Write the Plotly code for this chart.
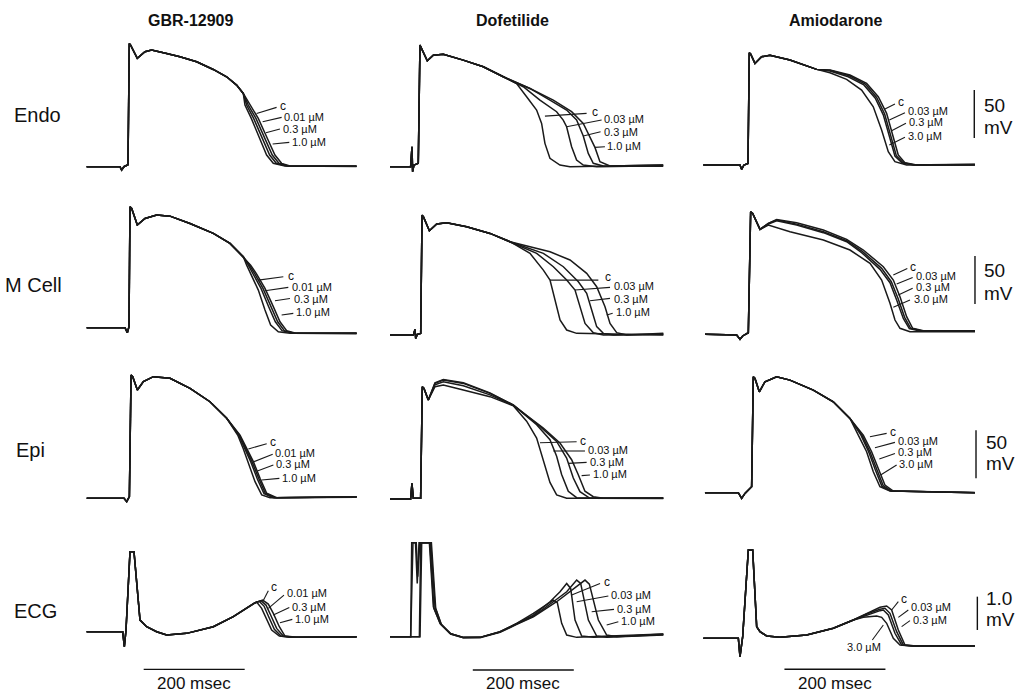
import plotly.graph_objects as go

W, H = 1023, 696

# ---------------------------------------------------------------- data
row_names = ["Endo", "M Cell", "Epi", "ECG"]
drug_names = ["GBR-12909", "Dofetilide", "Amiodarone"]
gbr_conc = ["c", "0.01 µM", "0.3 µM", "1.0 µM"]
dof_conc = ["c", "0.03 µM", "0.3 µM", "1.0 µM"]
amio_conc = ["c", "0.03 µM", "0.3 µM", "3.0 µM"]

# action potentials: (time ms from upstroke, membrane potential mV)
endo_gbr_pre = [(-84.5, -85), (-18.5, -85), (-15.2, -88.5), (-10.6, -85), (-2.6, -83), (0, 43.4), (2.6, 41.7),
                (15.8, 27.8), (31, 34.7), (44.2, 36.5), (73.9, 33), (100.3, 29.5), (133.3, 24.3), (166.3, 16.3),
                (192.7, 8.7), (212.5, 0), (225.7, -8.7)]
endo_gbr_tails = [
    [(239, -20.8), (255.4, -34.7), (271.9, -53.8), (288.4, -72.9), (301.6, -81.5), (318.1, -84.3), (450, -84.6)],
    [(235.6, -20.8), (250.8, -34.7), (266.6, -53.8), (283.1, -72.9), (296.3, -81.5), (314.8, -84.3), (450, -84.3)],
    [(232.3, -20.8), (246.2, -34.7), (262, -53.8), (277.9, -72.9), (291.1, -81.5), (311.5, -84.3), (450, -84.8)],
    [(229, -20.8), (241.6, -34.7), (256.7, -53.8), (271.9, -72.9), (285.1, -81.5), (308.2, -84.3), (450, -84.5)],
]

endo_dof_pre = [(-58, -85), (-17.2, -85), (-14.5, -64.2), (-13.2, -90.2), (-10.6, -83.3), (-2, -81.5), (1.3, 41.7),
                (4.6, 38.2), (15.8, 25.3), (27.7, 31.2), (47.5, 32.2), (87, 26), (126.7, 19.1), (166.3, 8.7)]
endo_dof_tails = [
    [(192.7, 1.7), (212.5, -12.1), (232.3, -26), (242.2, -39.9), (248.8, -60.7), (258.7, -76.3), (278.5, -83.3),
     (298.3, -85), (483, -83.3)],
    [(205.9, -1.7), (238.9, -15.6), (271.9, -27.7), (285, -36.4), (291.7, -43.4), (301.6, -64.2), (311.5, -78),
     (324.7, -83.3), (351.1, -85), (483, -84)],
    [(219.1, -3.5), (258.7, -15.6), (291.7, -26), (311.5, -36.4), (324.7, -53), (334.6, -71.1), (344.5, -81.5),
     (364.3, -84.3), (483, -84.5)],
    [(219.1, -3.5), (265.3, -15.6), (301.6, -27.7), (324.7, -39.9), (337.9, -53.8), (347.8, -64.9), (357.7, -79.8),
     (377.5, -84.3), (483, -83.3)],
]

endo_amio_pre = [(-91, -85), (-18.5, -85), (-15.2, -89.5), (-10.6, -85), (-2.6, -83.3), (0, 32), (2.6, 30.6),
                 (11.2, 20.8), (24.4, 27.8), (40.9, 29.2), (80.5, 24.3), (133.3, 14.6)]
endo_amio_tails = [
    [(159.7, 13.9), (199.3, 8.7), (232.3, 0), (255.4, -13.9), (271.9, -31.2), (285.1, -55.5), (295, -74.6),
     (308.2, -82.6), (331.3, -85), (446.8, -85)],
    [(159.7, 13.6), (198, 8), (229.7, -0.7), (252.1, -14.6), (268, -31.9), (281.2, -56.2), (291.1, -75.3),
     (304.9, -82.6), (328, -85), (446.8, -85)],
    [(159.7, 12.9), (195.9, 6.9), (226.9, -1.6), (249.5, -15.5), (265.3, -32.8), (278.5, -57.3), (288.4, -75.6),
     (302.3, -82.6), (324.7, -85), (446.8, -84.6)],
    [(159.7, 11.1), (192.7, 4.2), (222.4, -6.9), (245.5, -24.3), (262, -48.6), (275.2, -71.1), (288.4, -81.5),
     (311.5, -85), (446.8, -84.3)],
]

mcell_gbr_pre = [(-85.8, -85), (-9.9, -85), (-5.3, -90.2), (-2, -84), (0, 41), (3.3, 39.2), (14.5, 21.9),
                 (29.7, 28.8), (52.8, 32.3), (79.2, 31.2), (118.8, 23.6), (165, 13.2), (198, 2.8), (224.4, -11.1)]
mcell_gbr_tails = [
    [(238.9, -19.8), (250.8, -29.1), (267.3, -44.1), (283.8, -63.1), (297, -78.8), (310.2, -88.1), (330, -90.9),
     (448.8, -90.9)],
    [(236.6, -19.8), (247.5, -29.1), (263.3, -44.1), (279.2, -63.1), (292.4, -78.8), (305.6, -88.1), (326.7, -90.9),
     (448.8, -90.5)],
    [(234.3, -19.8), (244.2, -29.1), (259.4, -44.1), (274.6, -63.1), (287.8, -78.8), (301, -88.1), (323.4, -90.9),
     (448.8, -91.2)],
    [(231, -19.8), (238.9, -28.4), (254.1, -45.8), (267.3, -66.6), (278.5, -82.2), (293.7, -89.2), (316.8, -90.9),
     (448.8, -90.8)],
]

mcell_dof_pre = [(-62.7, -85), (-16.5, -85), (-13.2, -79.1), (-11.9, -88.5), (-8.6, -84.3), (-2, -83.3), (0.7, 39.9),
                 (3.3, 38.2), (15.2, 23.6), (29.7, 30.6), (49.5, 32), (89.1, 27.8), (135.3, 20.8), (174.9, 12.2)]
mcell_dof_tails = [
    [(214.5, 0), (240.9, -17.4), (254.1, -27.8), (264, -48.6), (273.9, -69.4), (287.1, -79.8), (306.9, -83.3),
     (478.5, -85)],
    [(227.7, 0), (260.7, -13.9), (287.1, -27.8), (303.6, -38.2), (313.5, -55.5), (323.4, -72.9), (339.9, -82.6),
     (359.7, -85), (478.5, -84.5)],
    [(240.9, 0), (280.5, -13.9), (310.2, -29.5), (326.7, -41.6), (336.6, -59), (346.5, -76.3), (359.7, -83.3),
     (379.5, -85), (478.5, -84)],
    [(254.1, 1.7), (293.7, -6.9), (326.7, -20.8), (346.5, -34.7), (363, -55.5), (372.9, -72.9), (386.1, -82.6),
     (405.9, -85), (478.5, -83.3)],
]

mcell_amio_pre = [(-89.1, -84.3), (-26.4, -85), (-19.8, -89.5), (-14.5, -86), (-3.3, -82.6), (1.3, 43.4), (5.3, 41.6),
                  (19.8, 25)]
mcell_amio_tails = [
    [(36.3, 31.2), (52.8, 35.4), (92.4, 31.9), (145.2, 24.3), (191.4, 14.6), (224.4, 3.5), (264, -13.9),
     (283.8, -27.8), (297, -45.1), (310.2, -65.9), (322.1, -78), (343.2, -80.5), (445.5, -80.5)],
    [(36.3, 31.2), (52.8, 34.7), (92.4, 30.5), (145.2, 22.6), (191.4, 13.2), (223.1, 1.8), (260.7, -15.6),
     (279.8, -29.5), (293, -46.8), (306.2, -66.6), (318.1, -78), (339.9, -80.5), (445.5, -80.5)],
    [(36.3, 30.5), (52.8, 34), (92.4, 29.5), (145.2, 21.6), (191.4, 12.2), (221.1, 0.8), (257.4, -16.6),
     (277.2, -30.5), (290.4, -48.5), (303.6, -67.7), (315.5, -78.3), (336.6, -80.8), (445.5, -80.9)],
    [(36.3, 29.5), (79.2, 22.6), (145.2, 13.9), (198, 3.5), (237.6, -10.4), (260.7, -27.8), (277.2, -52),
     (287.1, -69.4), (297, -78), (316.8, -81.5), (445.5, -81.5)],
]

epi_gbr_pre = [(-87.1, -85), (-13.2, -85), (-7.9, -88.5), (-2.6, -83.3), (0.7, 43.4), (4, 41.7), (13.2, 27.8),
               (25.1, 36.5), (44.9, 41.7), (77.9, 40), (117.5, 29.5), (157, 15.6), (190.1, -1.7)]
epi_gbr_tails = [
    [(216.5, -19.1), (229.7, -33), (242.9, -46.8), (256.1, -64.2), (269.3, -79.8), (289.1, -84.3), (447.5, -83.3)],
    [(215.2, -19.1), (227.7, -33), (240.2, -46.8), (253.4, -64.2), (266.6, -79.8), (285.8, -84.3), (447.5, -83.6)],
    [(213.8, -19.1), (225.7, -33), (237.6, -46.8), (250.8, -64.9), (264, -80.1), (282.5, -84.3), (447.5, -83.8)],
    [(212.5, -19.8), (223.1, -33.6), (233.6, -48.6), (246.2, -67.7), (259.4, -81.5), (275.9, -84.3), (447.5, -83.5)],
]

epi_dof_pre = [(-64, -85), (-23.1, -85), (-20.5, -68.7), (-17.8, -84.3), (-3.3, -84.3), (0, 32), (3.3, 30.2),
               (11.9, 18.1)]
epi_dof_tails = [
    [(25.1, 32), (41.6, 33.7), (81.2, 28.5), (134, 21.6), (180.2, 12.1), (206.6, -4), (226.4, -21.5),
     (239.6, -45.8), (252.8, -67.7), (266, -80.8), (285.8, -84.3), (477.2, -84.3)],
    [(25.1, 35.4), (41.6, 38.9), (81.2, 35.4), (134, 25), (180.2, 12.8), (226.4, -7.6), (252.8, -23.2),
     (266, -40.5), (275.9, -59.5), (289.1, -76.9), (305.6, -83.6), (477.2, -84)],
    [(25.1, 36), (41.6, 39.5), (81.2, 36), (134, 25.5), (180.2, 13), (233, -9.3), (266, -25), (285.8, -42.3),
     (299, -63.2), (312.2, -77.4), (332, -84.3), (477.2, -84.6)],
    [(25.1, 34), (41.6, 37), (81.2, 33), (134, 23.5), (180.2, 12.5), (239.6, -11), (272.6, -26.7), (295.7, -44.1),
     (308.9, -59.7), (322.1, -76.9), (338.6, -82.6), (358.4, -84.3), (477.2, -84)],
]

epi_amio_pre = [(-95.7, -85), (-29.7, -85), (-23.1, -90.9), (-16.5, -85.7), (-3.3, -78.8), (0, 35.8), (3.3, 34),
                (11.9, 20.1), (23.1, 30.6), (46.2, 35.8), (72.6, 32.3), (118.8, 21.9), (158.4, 9.7), (191.4, -7.6)]
epi_amio_tails = [
    [(217.8, -25), (234.3, -42.3), (247.5, -59.7), (260.7, -77), (277.2, -83.3), (438.9, -85)],
    [(215.2, -25), (231, -42.3), (244.2, -60.4), (257.4, -77.7), (273.9, -83.3), (438.9, -85)],
    [(213.2, -25), (228.4, -42.3), (241.6, -61.1), (254.8, -78.4), (271.9, -83.3), (438.9, -84.7)],
    [(207.9, -25), (224.4, -42.3), (237.6, -63.2), (250.8, -78.8), (270.6, -83.3), (438.9, -85)],
]

# ECG: (time ms from QRS onset, mV)
ecg_gbr_pre = [(-76, 0), (-4.6, 0), (-1.3, -0.45), (2, 0.05), (9.9, 2.4), (17.8, 2.4), (29.7, 0.35), (42.9, 0.15),
               (62.7, 0), (82.5, -0.1), (122.1, -0.05), (174.9, 0.15), (214.5, 0.45), (240.9, 0.7)]
ecg_gbr_tails = [
    [(257.4, 0.87), (272.6, 0.95), (283.8, 0.83), (293.7, 0.55), (305.6, 0.15), (316.8, -0.13), (339.9, -0.17),
     (458.7, -0.15)],
    [(257.4, 0.87), (269.3, 0.93), (279.2, 0.8), (288.4, 0.5), (300.3, 0.1), (313.5, -0.13), (333.3, -0.17),
     (458.7, -0.16)],
    [(255.4, 0.85), (266, 0.91), (275.2, 0.77), (284.5, 0.45), (295.7, 0.07), (308.9, -0.13), (330, -0.17),
     (458.7, -0.15)],
    [(252.8, 0.83), (260.7, 0.89), (270.6, 0.7), (280.5, 0.37), (290.4, 0.05), (305.6, -0.13), (326.7, -0.17),
     (458.7, -0.16)],
]

ecg_dof_pre = [(-42.9, 0), (-2, 0)]
ecg_dof_tails = [
    [(0, 2.82), (7.5, 2.82), (11, 1.6), (14.5, 2.82), (35, 2.82), (42.9, 0.9), (56.1, 0.4), (75.9, 0.1),
     (102.3, -0.02), (135.3, -0.02), (174.9, 0.15), (207.9, 0.4), (240.9, 0.7), (267.3, 0.95), (280.5, 1.1),
     (288.4, 1.02), (297, 0.4), (306.9, 0.05), (326.7, -0.02), (498.3, 0.08)],
    [(2.5, 2.82), (9, 2.82), (12, 1.8), (16, 2.82), (36, 2.82), (44, 0.85), (57, 0.38), (76, 0.1), (102.3, -0.02),
     (135.3, -0.02), (174.9, 0.15), (207.9, 0.4), (240.9, 0.65), (273.9, 1.05), (293.7, 1.35), (306.9, 1.6),
     (314.8, 1.45), (323.4, 0.5), (336.6, 0.02), (359.7, -0.02), (498.3, 0.06)],
    [(15.2, 0), (17.8, 2.82), (37.6, 2.82), (46.2, 0.9), (58, 0.38), (77, 0.08), (102.3, -0.03), (135.3, -0.02),
     (174.9, 0.14), (207.9, 0.38), (240.9, 0.62), (280.5, 1.05), (306.9, 1.35), (326.7, 1.7), (334.6, 1.6),
     (349.8, 0.5), (366.3, 0.02), (386.1, -0.02), (498.3, 0.05)],
    [(16.5, 0), (19.8, 2.82), (39, 2.82), (47.5, 0.85), (59, 0.36), (78, 0.08), (102.3, -0.03), (135.3, -0.03),
     (174.9, 0.13), (207.9, 0.37), (240.9, 0.6), (287.1, 1.05), (316.8, 1.4), (343.2, 1.7), (351.8, 1.58),
     (369.6, 0.5), (386.1, 0.05), (405.9, 0), (498.3, 0.08)],
]

ecg_amio_pre = [(-72.6, 0), (-3.3, 0), (0, -0.55), (5.3, 0.05), (16.5, 2.65), (25.1, 2.65), (33, 0.35), (39.6, 0.2),
                (52.8, 0.07), (79.2, 0.03), (132, 0.1), (184.8, 0.3), (224.4, 0.55)]
ecg_amio_tails = [
    [(250.8, 0.75), (277.2, 0.93), (290.4, 0.97), (300.3, 0.85), (313.5, 0.25), (326.7, -0.2), (349.8, -0.23),
     (465.3, -0.23)],
    [(250.8, 0.73), (277.2, 0.87), (287.1, 0.9), (297, 0.75), (310.2, 0.2), (323.4, -0.2), (346.5, -0.23),
     (465.3, -0.22)],
    [(250.8, 0.7), (277.2, 0.83), (283.8, 0.85), (293.7, 0.7), (306.9, 0.15), (320.1, -0.2), (343.2, -0.23),
     (465.3, -0.23)],
    [(244.2, 0.63), (270.6, 0.67), (280.5, 0.63), (290.4, 0.45), (303.6, 0), (316.8, -0.2), (339.9, -0.23),
     (465.3, -0.22)],
]

scale_ap_mV = 50
scale_ecg_mV = 1.0
scale_time_ms = 200

panel_data = [
    [(endo_gbr_pre, endo_gbr_tails), (endo_dof_pre, endo_dof_tails), (endo_amio_pre, endo_amio_tails)],
    [(mcell_gbr_pre, mcell_gbr_tails), (mcell_dof_pre, mcell_dof_tails), (mcell_amio_pre, mcell_amio_tails)],
    [(epi_gbr_pre, epi_gbr_tails), (epi_dof_pre, epi_dof_tails), (epi_amio_pre, epi_amio_tails)],
    [(ecg_gbr_pre, ecg_gbr_tails), (ecg_dof_pre, ecg_dof_tails), (ecg_amio_pre, ecg_amio_tails)],
]
col_conc = [gbr_conc, dof_conc, amio_conc]

# ---------------------------------------------------------------- layout geometry
KX = 0.505  # px per ms
# (origin x px, origin y px, value at origin, px per unit)
geom = [
    [(129.3, 166.7, -85, 0.96), (419.3, 166.7, -85, 0.96), (749.3, 165.0, -85, 0.96)],
    [(130.0, 327.7, -85, 0.96), (421.7, 335.0, -85, 0.96), (750.0, 335.0, -85, 0.96)],
    [(130.7, 498.3, -85, 0.96), (422.3, 499.0, -85, 0.96), (753.3, 492.7, -85, 0.96)],
    [(125.0, 631.7, 0, 33.3), (411.7, 636.7, 0, 33.3), (740.0, 638.3, 0, 33.3)],
]
col_px = [(78, 376), (378, 686), (688, 1023)]
row_px = [(25, 190), (192, 356), (358, 522), (524, 696)]

# label leader lines: (t_start, v_start, t_end, v_end, t_text, v_text)
label_pos = {
    (0, 0): [(252.1, -29.5, 291.7, -23.2, 295, -21.8), (264, -38.2, 301.6, -33.6, 303, -33.6),
             (270.6, -49.6, 298.3, -45.8, 300.3, -45.8), (283.8, -61.4, 316.8, -59.7, 318, -59.7)],
    (0, 1): [(248.8, -32.3, 331.3, -29.5, 337.9, -28.4), (291.7, -43.4, 361, -36.4, 362.3, -35.7),
             (324.7, -53.1, 359, -48.6, 362.3, -48.6), (347.8, -64.9, 367.6, -64.2, 368.6, -63.5)],
    (0, 2): [(268.6, -26.7, 288.4, -21.5, 289.7, -19.1), (277.2, -38.2, 308.2, -30.6, 310.2, -28.4),
             (281.8, -49.3, 310.2, -41.6, 311.5, -39.9), (277.2, -64.2, 308.2, -56.2, 310.2, -54.8)],
    (1, 0): [(254.1, -35.4, 303.6, -31.9, 308.9, -31.2), (267.3, -46.5, 313.5, -43, 316.8, -43),
             (287.1, -56.9, 316.8, -54.5, 320.1, -55.2), (300.3, -71.8, 323.4, -70.1, 325.4, -69)],
    (1, 1): [(254.1, -27.8, 349.8, -27.8, 359.7, -25), (303.6, -38.2, 372.9, -35.4, 376.2, -34),
             (333.3, -49.3, 372.9, -46.8, 376.2, -47.5), (366.3, -64.2, 378.2, -62.4, 380.8, -61.4)],
    (1, 2): [(283.8, -22.5, 311.5, -15.6, 313.5, -13.9), (290.4, -31.9, 322.1, -25, 324.7, -23.6),
             (293.7, -43.4, 322.1, -36.4, 324.7, -35.4), (283.8, -56.2, 316.8, -48.6, 320.1, -47.5)],
    (2, 0): [(233, -33.6, 269.3, -28.1, 272.6, -26.7), (244.2, -46.8, 281.2, -39.2, 282.5, -38.2),
             (250.8, -56.5, 282.5, -50.3, 284.5, -49.6), (259.4, -65.9, 294.4, -64.2, 295.7, -63.5)],
    (2, 1): [(233, -26.4, 305.6, -25.3, 308.9, -24.6), (259.4, -35, 322.1, -35, 324, -34),
             (289.1, -47.9, 325.4, -46.8, 327.4, -46.1), (315.5, -60.7, 332, -60, 334, -59.3)],
    (2, 2): [(231, -26.7, 264, -23.2, 266, -21.5), (240.9, -38.2, 280.5, -32.6, 282.5, -31.2),
             (249.5, -50, 280.5, -44.1, 282.5, -43), (252.1, -66.6, 283.8, -56.2, 285.1, -55.5)],
    (3, 0): [(272.6, 0.9, 283.8, 1.23, 285.1, 1.33), (283.8, 0.7, 314.8, 1.1, 316.1, 1.17),
             (293.7, 0.5, 325.4, 0.73, 326.7, 0.73), (306.9, 0.27, 331.3, 0.37, 333.3, 0.37)],
    (3, 1): [(316.8, 1.25, 372.9, 1.6, 376.2, 1.63), (326.7, 1.05, 389.4, 1.22, 391.4, 1.25),
             (356.4, 0.75, 400.6, 0.82, 402.6, 0.82), (386.1, 0.35, 409.2, 0.45, 411.2, 0.48)],
    (3, 2): [(300.3, 0.85, 313.5, 1.1, 315.5, 1.17), (313.5, 0.63, 333.3, 0.85, 335.3, 0.93),
             (320.1, 0.35, 336.6, 0.53, 337.9, 0.55), (283.8, 0.4, 262, -0.05, 207.9, -0.25)],
}
# amplitude scale bars: (t, v_top, v_bottom, t_text, v_text1, v_text2)
vbar_pos = {0: (445.5, -7, -57, 460, -22.5, -45.8), 1: (445.5, -2.7, -52.7, 460, -17.3, -41.3),
            2: (441, -20, -70, 456, -33, -55), 3: (470, 1.25, 0.25, 484, 1.2, 0.57)}
# time bars: (t_start, v, t_text, v_text)
tbar_pos = {0: (37, -1.13, 137, -1.57), 1: (121, -1.0, 221, -1.42), 2: (88, -0.93, 188, -1.37)}

FONT = "Liberation Sans, Arial, Helvetica, sans-serif"
LINE = "#1a1a1a"

fig = go.Figure()
axes = {}
shapes = []
annos = []


def ax_names(idx):
    s = "" if idx == 1 else str(idx)
    return "x" + s, "y" + s, "xaxis" + s, "yaxis" + s


for r in range(4):
    for c in range(3):
        idx = r * 3 + c + 1
        xr, yr, xkey, ykey = ax_names(idx)
        xo, yo, vo, ky = geom[r][c]
        xl, xrt = col_px[c]
        yt, yb = row_px[r]
        axes[xkey] = dict(domain=[xl / W, xrt / W], range=[(xl - xo) / KX, (xrt - xo) / KX],
                          visible=False, anchor=yr, fixedrange=True)
        axes[ykey] = dict(domain=[1 - yb / H, 1 - yt / H], range=[vo + (yo - yb) / ky, vo + (yo - yt) / ky],
                          visible=False, anchor=xr, fixedrange=True)
        pre, tails = panel_data[r][c]
        for k, tail in enumerate(tails):
            pts = pre + tail
            fig.add_trace(go.Scatter(x=[p[0] for p in pts], y=[p[1] for p in pts], mode="lines",
                                     line=dict(color=LINE, width=1.5), xaxis=xr, yaxis=yr,
                                     name=f"{row_names[r]} {drug_names[c]} {col_conc[c][k]}",
                                     hoverinfo="skip", showlegend=False))
        for k, (ts, vs, te, ve, tt, vt) in enumerate(label_pos[(r, c)]):
            shapes.append(dict(type="line", xref=xr, yref=yr, x0=ts, y0=vs, x1=te, y1=ve,
                               line=dict(color=LINE, width=1.1)))
            annos.append(dict(x=tt, y=vt, xref=xr, yref=yr, text=col_conc[c][k], showarrow=False,
                              xanchor="left", yanchor="middle",
                              font=dict(family=FONT, size=12 if k == 0 else 11, color="#111")))
        if c == 2:
            t, v1, v2, ttx, vt1, vt2 = vbar_pos[r]
            shapes.append(dict(type="line", xref=xr, yref=yr, x0=t, x1=t, y0=v1, y1=v2,
                               line=dict(color="#111", width=1.4)))
            top = f"{scale_ap_mV}" if r < 3 else f"{scale_ecg_mV:.1f}"
            for txt, vv in ((top, vt1), ("mV", vt2)):
                annos.append(dict(x=ttx, y=vv, xref=xr, yref=yr, text=txt, showarrow=False,
                                  xanchor="left", yanchor="middle", font=dict(family=FONT, size=19, color="#111")))
        if r == 3:
            t0, v, ttx, vt = tbar_pos[c]
            shapes.append(dict(type="line", xref=xr, yref=yr, x0=t0, x1=t0 + scale_time_ms, y0=v, y1=v,
                               line=dict(color="#111", width=1.4)))
            annos.append(dict(x=ttx, y=vt, xref=xr, yref=yr, text=f"{scale_time_ms} msec", showarrow=False,
                              xanchor="center", yanchor="middle", font=dict(family=FONT, size=17, color="#111")))

# row and column titles (paper coordinates)
row_lbl_pos = [(12, 115), (3, 285), (14, 450), (12, 611)]
for name, (px, py) in zip(row_names, row_lbl_pos):
    annos.append(dict(x=px / W, y=1 - py / H, xref="paper", yref="paper", text=name, showarrow=False,
                      xanchor="left", yanchor="middle", font=dict(family=FONT, size=20, color="#111")))
col_lbl_pos = [(190, 20), (512, 20), (835, 20)]
for name, (px, py) in zip(drug_names, col_lbl_pos):
    annos.append(dict(x=px / W, y=1 - py / H, xref="paper", yref="paper", text=f"<b>{name}</b>",
                      showarrow=False, xanchor="center", yanchor="middle",
                      font=dict(family=FONT, size=16, color="#111")))

fig.update_layout(width=W, height=H, margin=dict(l=0, r=0, t=0, b=0), paper_bgcolor="white",
                  plot_bgcolor="white", showlegend=False, shapes=shapes, annotations=annos, **axes)
fig.write_html("out.html", config={"displayModeBar": False},
               post_script="document.body.style.margin='0px';document.body.style.padding='0px';"
                           "document.body.style.overflow='hidden';")
